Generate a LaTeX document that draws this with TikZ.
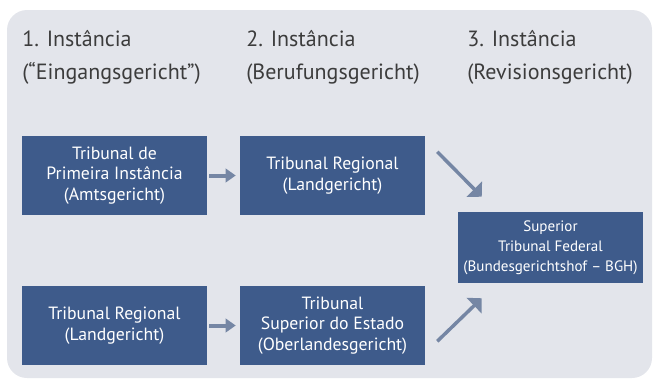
\documentclass[tikz,border=0pt]{standalone}
\usepackage{fontspec}
\setmainfont{PT Sans}
\usetikzlibrary{positioning,arrows.meta,calc}
\definecolor{cBox}{RGB}{62,91,139}
\definecolor{cBack}{RGB}{227,229,235}
\definecolor{cArr}{RGB}{117,134,164}
\definecolor{cHead}{RGB}{60,60,60}

\begin{document}
\begin{tikzpicture}[x=0.75pt,y=-0.75pt,
    court/.style={fill=cBox,text=white,align=center,inner sep=0pt,
      minimum width=138.75pt,minimum height=59.25pt,font=\fontsize{13.3}{15.4}\selectfont},
    head/.style={anchor=north west,align=left,inner sep=0pt,text=cHead,
      font=\fontsize{16.5}{25}\selectfont},
    arr/.style={draw=cArr,line width=3pt,-{Triangle[length=7.5pt,width=10pt]}},
    darr/.style={draw=cArr,line width=2.6pt,-{Triangle[length=8pt,width=16pt]}}]
  \useasboundingbox (0,0) rectangle (653,379);
  \fill[cBack,rounded corners=15pt] (7,10) rectangle (652,378);
  % column heads
  \node[head] (h1) at (22,30) {1. Instância\\(“Eingangsgericht”)};
  \node[head] (h2) at (246,30) {2. Instância\\(Berufungsgericht)};
  \node[head] (h3) at (467,30) {3. Instância\\(Revisionsgericht)};
  % courts
  \node[court] (amt) at (114.5,175.5) {Tribunal de\\Primeira Instância\\(Amtsgericht)};
  \node[court] (land1) at (332.5,175.5) {Tribunal Regional\\(Landgericht)};
  \node[court] (land2) at (114.5,325.5) {Tribunal Regional\\(Landgericht)};
  \node[court] (olg) at (332.5,325.5) {Tribunal\\Superior do Estado\\(Oberlandesgericht)};
  \node[court,minimum height=53.25pt,font=\fontsize{11.3}{15}\selectfont] (bgh) at (550.5,247.5)
    {Superior\\Tribunal Federal\\(Bundesgerichtshof – BGH)};
  \draw[arr,shorten <=1.5pt,shorten >=3pt] (amt) -- (land1);
  \draw[arr,shorten <=1.5pt,shorten >=3pt] (land2) -- (olg);
  \draw[darr] ($(land1.north east)+(12,16)$) -- ($(bgh.north west)+(24,-15)$);
  \draw[darr] ($(olg.south east)+(12,-24)$) -- ($(bgh.south west)+(24,15)$);
\end{tikzpicture}
\end{document}
